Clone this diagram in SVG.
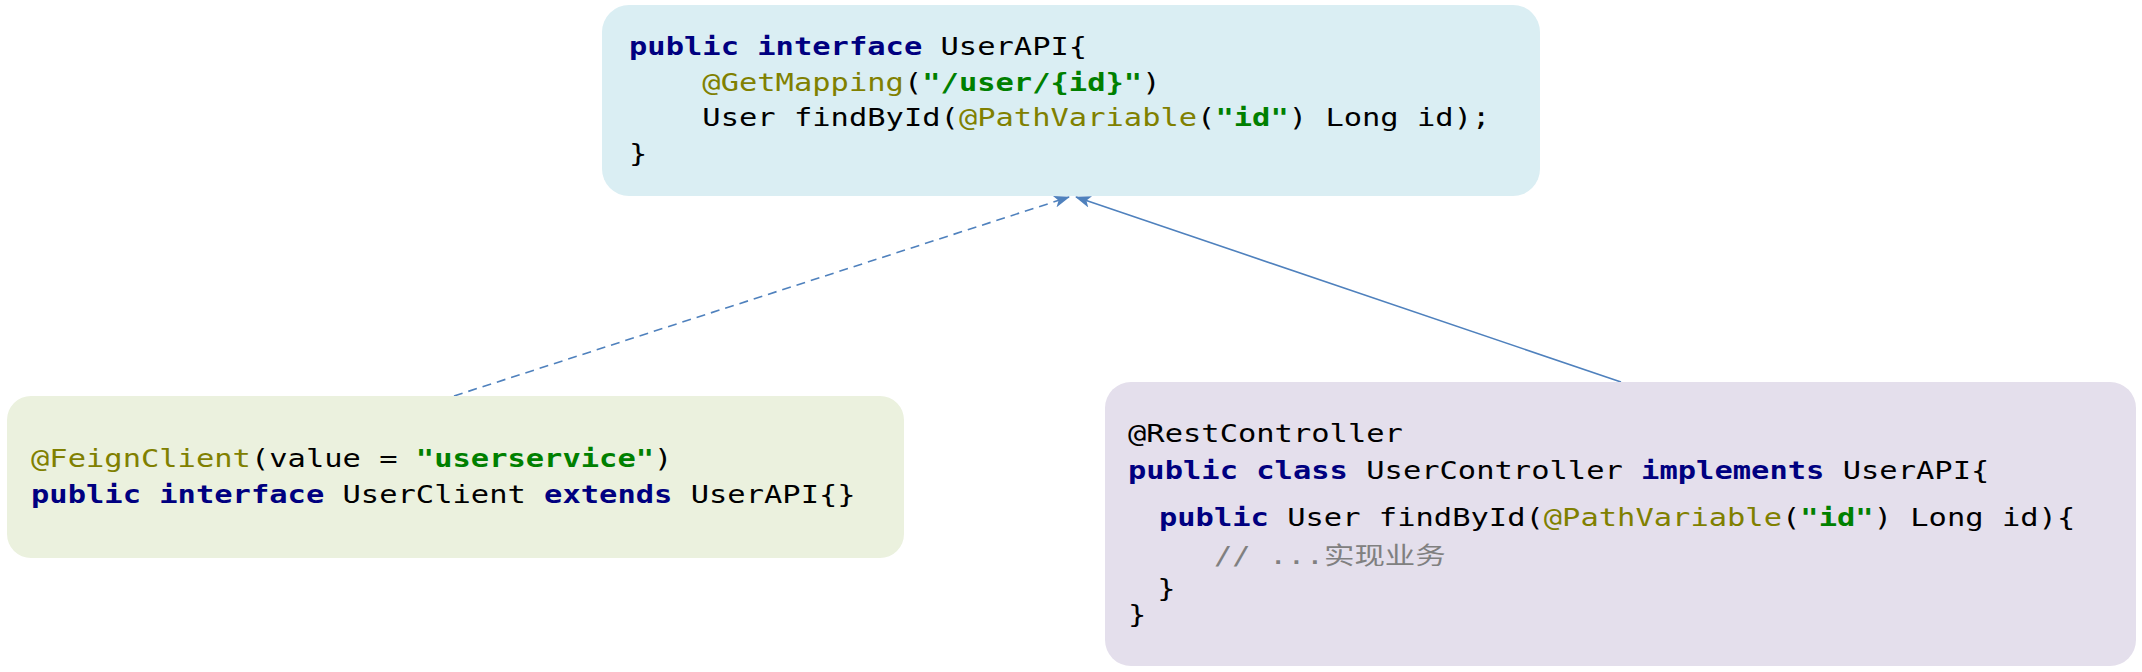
<svg xmlns="http://www.w3.org/2000/svg" width="2142" height="672" viewBox="0 0 2142 672">
<style>
text{font-family:"DejaVu Sans Mono","Noto Sans CJK SC",monospace;font-size:24px;fill:#000}
.k{fill:#000080;font-weight:bold}
.a{fill:#808000}
.s{fill:#008000;font-weight:bold}
.c{fill:#808080}
.edge{fill:none;stroke:#4F81BD;stroke-width:1.6}
</style>
<defs>
<marker id="arr" viewBox="0 0 16 12" refX="15" refY="6" markerWidth="16" markerHeight="12" markerUnits="userSpaceOnUse" orient="auto">
<path d="M0,0 L16,6 L0,12 L4,6 z" fill="#4F81BD"/>
</marker>
</defs>
<rect width="2142" height="672" fill="#fff"/>
<g id="connectors">
<line class="edge" x1="454" y1="396" x2="1069" y2="197" stroke-dasharray="9 6" marker-end="url(#arr)"/>
<line class="edge" x1="1621" y1="382" x2="1076" y2="197" marker-end="url(#arr)"/>
</g>
<g id="userapi">
<rect x="602" y="5" width="938" height="191" rx="27" fill="#DAEEF3"/>
<g transform="translate(629 0) scale(1.2686 1)">
<text x="0" y="55.5"><tspan class="k">public</tspan> <tspan class="k">interface</tspan> UserAPI{</text>
<text x="57.8" y="91"><tspan class="a">@GetMapping</tspan>(<tspan class="s">"/user/{id}"</tspan>)</text>
<text x="57.8" y="126.5">User findById(<tspan class="a">@PathVariable</tspan>(<tspan class="s">"id"</tspan>) Long id);</text>
<text x="0" y="162">}</text>
</g>
</g>
<g id="userclient">
<rect x="7" y="396" width="897" height="162" rx="24" fill="#EBF1DE"/>
<g transform="translate(31 0) scale(1.2686 1)">
<text x="0" y="467"><tspan class="a">@FeignClient</tspan>(value = <tspan class="s">"userservice"</tspan>)</text>
<text x="0" y="503"><tspan class="k">public</tspan> <tspan class="k">interface</tspan> UserClient <tspan class="k">extends</tspan> UserAPI{}</text>
</g>
</g>
<g id="usercontroller">
<rect x="1105" y="382" width="1031" height="284" rx="26" fill="#E4DFEC"/>
<g transform="translate(1128 0) scale(1.2686 1)">
<text x="0" y="442">@RestController</text>
<text x="0" y="479"><tspan class="k">public</tspan> <tspan class="k">class</tspan> UserController <tspan class="k">implements</tspan> UserAPI{</text>
<text x="24.4" y="526"><tspan class="k">public</tspan> User findById(<tspan class="a">@PathVariable</tspan>(<tspan class="s">"id"</tspan>) Long id){</text>
<text class="c" x="67.8" y="564">// ...实现业务</text>
<text x="23" y="597">}</text>
<text x="0" y="623">}</text>
</g>
</g>
</svg>
